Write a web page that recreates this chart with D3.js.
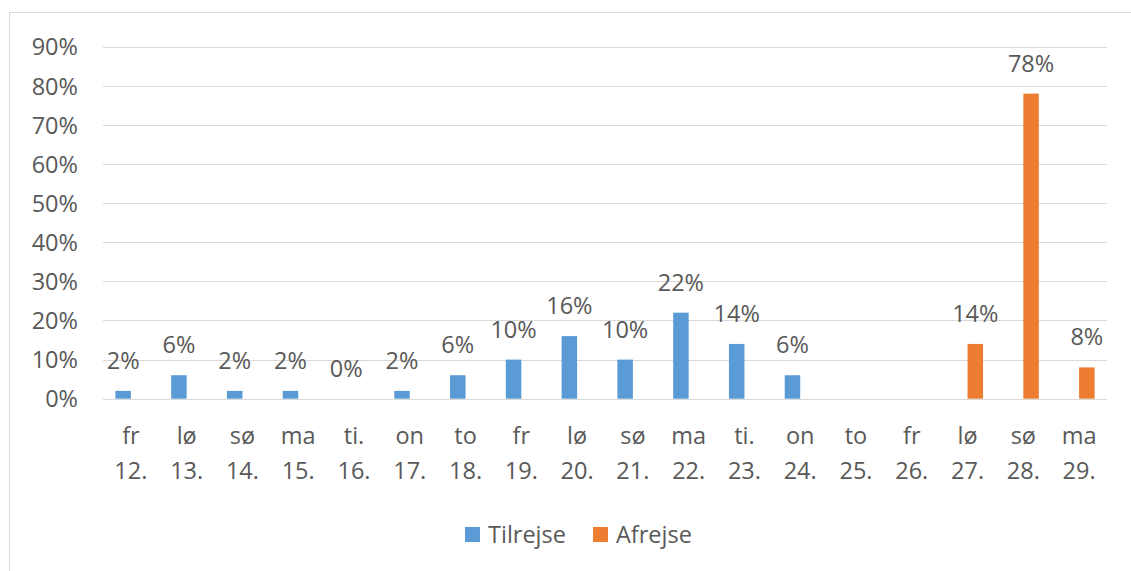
<!DOCTYPE html>
<html>
<head>
<meta charset="utf-8">
<script src="https://cdn.jsdelivr.net/npm/d3@7"></script>
<style>
  html, body { margin: 0; padding: 0; background: #ffffff; }
  svg { display: block; }
  text { font-family: "Open Sans", "Noto Sans", sans-serif; fill: #595959; }
</style>
</head>
<body>
<svg id="chart" width="1131" height="571"></svg>
<script>
const weekdays = ["fr","lø","sø","ma","ti.","on","to","fr","lø","sø","ma","ti.","on","to","fr","lø","sø","ma"];
const dates    = ["12.","13.","14.","15.","16.","17.","18.","19.","20.","21.","22.","23.","24.","25.","26.","27.","28.","29."];
const seriesNames = ["Tilrejse","Afrejse"];
const tilrejse = [2,6,2,2,0,2,6,10,16,10,22,14,6,null,null,null,null,null];
const afrejse  = [null,null,null,null,null,null,null,null,null,null,null,null,null,null,null,14,78,8];
const yTicks = [0,10,20,30,40,50,60,70,80,90];
const colors = ["#5B9BD5","#ED7D31"];

const FS = 23.5;
const svg = d3.select("#chart");
const plotLeft = 103, plotRight = 1107, plotTop = 46.7, plotBottom = 398.7;

// chart border (top and left visible)
svg.append("rect").attr("x",9.5).attr("y",12.5).attr("width",1140).attr("height",600)
  .attr("fill","none").attr("stroke","#d9d9d9").attr("stroke-width",1);

const cats = dates.map((d,i)=>i);
const x0 = d3.scaleBand().domain(cats).range([plotLeft,plotRight]).paddingInner(0).paddingOuter(0);
const x1 = d3.scaleBand().domain(seriesNames).range([0,x0.bandwidth()]).paddingInner(0).paddingOuter(0.8);
const y = d3.scaleLinear().domain([0,90]).range([plotBottom,plotTop]);

// gridlines
svg.append("g").selectAll("line").data(yTicks).join("line")
  .attr("x1",plotLeft).attr("x2",plotRight)
  .attr("y1",d=>Math.round(y(d))+0.5).attr("y2",d=>Math.round(y(d))+0.5)
  .attr("stroke","#d9d9d9").attr("stroke-width",1);

// y axis labels
const yAxis = d3.axisLeft(y).tickValues(yTicks).tickFormat(d=>d+"%").tickSize(0).tickPadding(0);
const gy = svg.append("g").attr("transform",`translate(78,0)`).call(yAxis);
gy.select(".domain").remove();
gy.selectAll("text").attr("font-size",FS).attr("fill","#595959").attr("font-family","'Open Sans', sans-serif")
  .attr("dy","0.35em");

// x labels (two lines)
const gx = svg.append("g");
cats.forEach(i=>{
  const cx = x0(i)+x0.bandwidth()/2;
  const t = gx.append("text").attr("x",cx).attr("text-anchor","middle").attr("font-size",FS);
  t.append("tspan").attr("x",cx).attr("y",443.5).text(weekdays[i]);
  t.append("tspan").attr("x",cx).attr("y",478.5).text(dates[i]);
});

// bars
const allSeries = [tilrejse, afrejse];
allSeries.forEach((vals,s)=>{
  const data = vals.map((v,i)=>({i,v})).filter(d=>d.v!==null);
  svg.append("g").selectAll("rect").data(data).join("rect")
    .attr("x",d=>x0(d.i)+x1(seriesNames[s]))
    .attr("width",x1.bandwidth())
    .attr("y",d=>y(d.v))
    .attr("height",d=>y(0)-y(d.v))
    .attr("fill",colors[s]);
  svg.append("g").selectAll("text").data(data).join("text")
    .attr("x",d=>x0(d.i)+x1(seriesNames[s])+x1.bandwidth()/2)
    .attr("y",d=>y(d.v)-22)
    .attr("text-anchor","middle").attr("font-size",FS)
    .text(d=>d.v+"%");
});

// legend
const legend = [{x:465, name:seriesNames[0], c:colors[0]},{x:593, name:seriesNames[1], c:colors[1]}];
legend.forEach(l=>{
  svg.append("rect").attr("x",l.x).attr("y",527).attr("width",15).attr("height",15).attr("fill",l.c);
  svg.append("text").attr("x",l.x+23).attr("y",542.5).attr("font-size",FS).text(l.name);
});
</script>
</body>
</html>
